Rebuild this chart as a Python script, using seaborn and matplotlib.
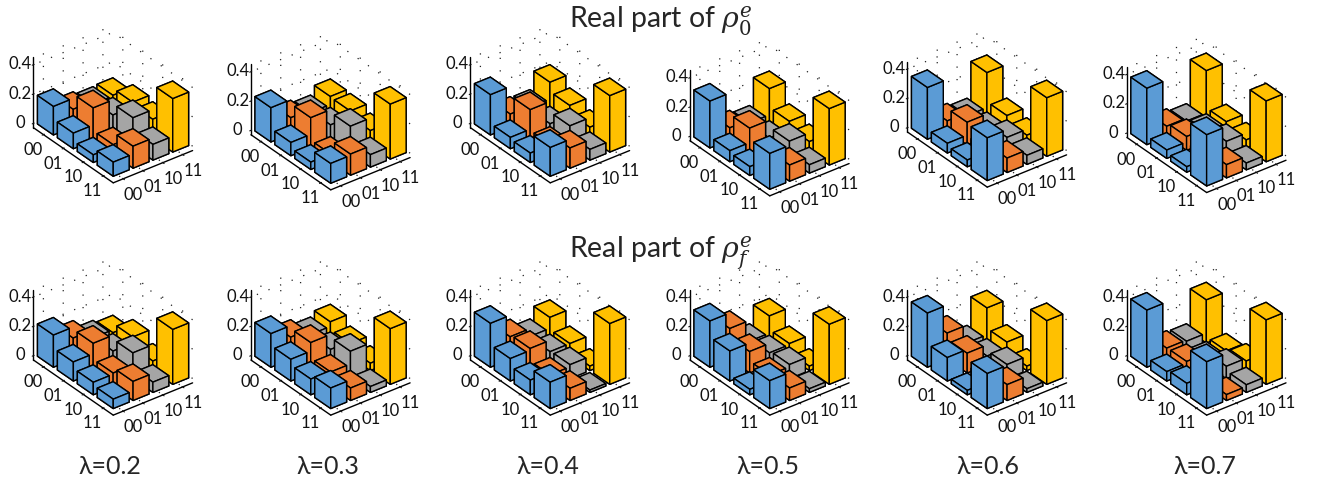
import matplotlib
matplotlib.use("Agg")
import matplotlib.pyplot as plt
import seaborn as sns

sns.set_style("white", {"grid.linestyle": (0, (1, 9)), "grid.color": "#222222"})
plt.rcParams["font.family"] = ["Lato", "DejaVu Sans"]
plt.rcParams["grid.linewidth"] = 0.9
plt.rcParams["mathtext.fontset"] = "dejavuserif"

# heights by column: 00 (blue), 01 (orange), 10 (gray), 11 (yellow); each list by row 00..11
rho0_l02 = [[.195, .106, .052, .096], [.12, .224, .066, .15], [.10, .12, .196, .107], [.105, .152, .13, .365]]
rho0_l03 = [[.234, .09, .05, .135], [.11, .205, .05, .144], [.09, .10, .185, .085], [.145, .14, .10, .375]]
rho0_l04 = [[.275, .077, .064, .197], [.087, .212, .07, .138], [.08, .06, .14, .073], [.195, .13, .075, .385]]
rho0_l05 = [[.32, .075, .06, .245], [.082, .174, .07, .11], [.06, .05, .124, .057], [.24, .11, .066, .385]]
rho0_l06 = [[.353, .066, .046, .292], [.07, .155, .06, .098], [.05, .05, .09, .062], [.29, .09, .05, .40]]
rho0_l07 = [[.385, .057, .037, .35], [.07, .094, .05, .09], [.05, .075, .10, .046], [.34, .085, .055, .415]]
rhof_l02 = [[.22, .13, .085, .064], [.144, .203, .093, .13], [.09, .094, .176, .07], [.07, .135, .065, .375]]
rhof_l03 = [[.23, .148, .107, .14], [.15, .208, .10, .085], [.113, .105, .187, .04], [.145, .09, .05, .38]]
rhof_l04 = [[.30, .153, .10, .18], [.153, .167, .08, .083], [.10, .09, .095, .016], [.175, .09, .03, .415]]
rhof_l05 = [[.316, .205, .037, .19], [.21, .146, .08, .085], [.067, .082, .096, .025], [.185, .09, .03, .41]]
rhof_l06 = [[.37, .16, .03, .24], [.178, .135, .05, .108], [.056, .06, .096, .025], [.24, .10, .03, .435]]
rhof_l07 = [[.39, .064, .078, .32], [.075, .078, .04, .04], [.067, .04, .084, .052], [.295, .04, .065, .44]]

panels_top = [rho0_l02, rho0_l03, rho0_l04, rho0_l05, rho0_l06, rho0_l07]
panels_bottom = [rhof_l02, rhof_l03, rhof_l04, rhof_l05, rhof_l06, rhof_l07]
basis = ["00", "01", "10", "11"]
z_ticks = [0, 0.2, 0.4]
z_labels = ["0", "0.2", "0.4"]
lambdas = ["λ=0.2", "λ=0.3", "λ=0.4", "λ=0.5", "λ=0.6", "λ=0.7"]
palette = sns.color_palette(["#5B9BD5", "#ED7D31", "#A5A5A5", "#FFC000"])

W, H = 1324, 483
fig = plt.figure(figsize=(W / 100, H / 100), dpi=100)
SIZE = 240
shift_x = [0, 217.5, 437, 656.5, 874, 1093.4]
shift_top = [0, 7, 0, 13, 4.3, 9.7]
shift_bot = [232.3] * 6


def panel(values, dx, dy):
    left = -10.2 + dx
    top_offset = 227.2 + dy
    ax = fig.add_axes([left / W, (H - top_offset) / H, SIZE / W, SIZE / H],
                      projection="3d", proj_type="ortho", computed_zorder=False)
    ax.set_facecolor("none")
    ax.view_init(elev=32, azim=-37.5)
    ax.set_box_aspect((131, 100, 83), zoom=0.7465)
    ax.set_xlim(0.5, 4.5, view_margin=0)
    ax.set_ylim(0.5, 4.5, view_margin=0)
    ax.set_zlim(-0.03, 0.45, view_margin=0)
    for r in range(4):
        for c in range(3, -1, -1):
            ax.bar3d(r + 0.6, c + 0.6, 0, 0.8, 0.8, values[c][r], color=palette[c],
                     edgecolor="black", linewidth=1.0, shade=False,
                     zorder=r * 4 + (3 - c) + 5)
    ax.set_xticks([1, 2, 3, 4], basis, fontsize=12, va="center_baseline")
    ax.set_yticks([1, 2, 3, 4], basis, fontsize=12, va="center")
    ax.set_zticks(z_ticks, z_labels, fontsize=12, va="center_baseline")
    ax.zaxis.set_ticks_position("lower")
    ax.tick_params(axis="x", pad=4, colors="#111111")
    ax.tick_params(axis="y", pad=3.5, colors="#111111")
    ax.tick_params(axis="z", pad=-0.5, colors="#111111")
    for a in (ax.xaxis, ax.yaxis, ax.zaxis):
        a.set_pane_color((1, 1, 1, 0))
        a.pane.set_edgecolor((1, 1, 1, 0))
        a.line.set_color("black")
        a.line.set_linewidth(1.0)
    return ax


for i in range(6):
    panel(panels_top[i], shift_x[i], shift_top[i])
    panel(panels_bottom[i], shift_x[i], shift_bot[i])

fig.text(661 / W, 1 - 21 / H, r"Real part of $\rho_0^e$", ha="center", va="center", fontsize=20.5)
fig.text(661 / W, 1 - 253 / H, r"Real part of $\rho_f^e$", ha="center", va="center", fontsize=20.5)
for i, cx in enumerate([110, 328, 548, 768, 988, 1205]):
    fig.text(cx / W, 1 - 467 / H, lambdas[i], ha="center", va="center", fontsize=18)

fig.savefig("out.png", dpi=100)
